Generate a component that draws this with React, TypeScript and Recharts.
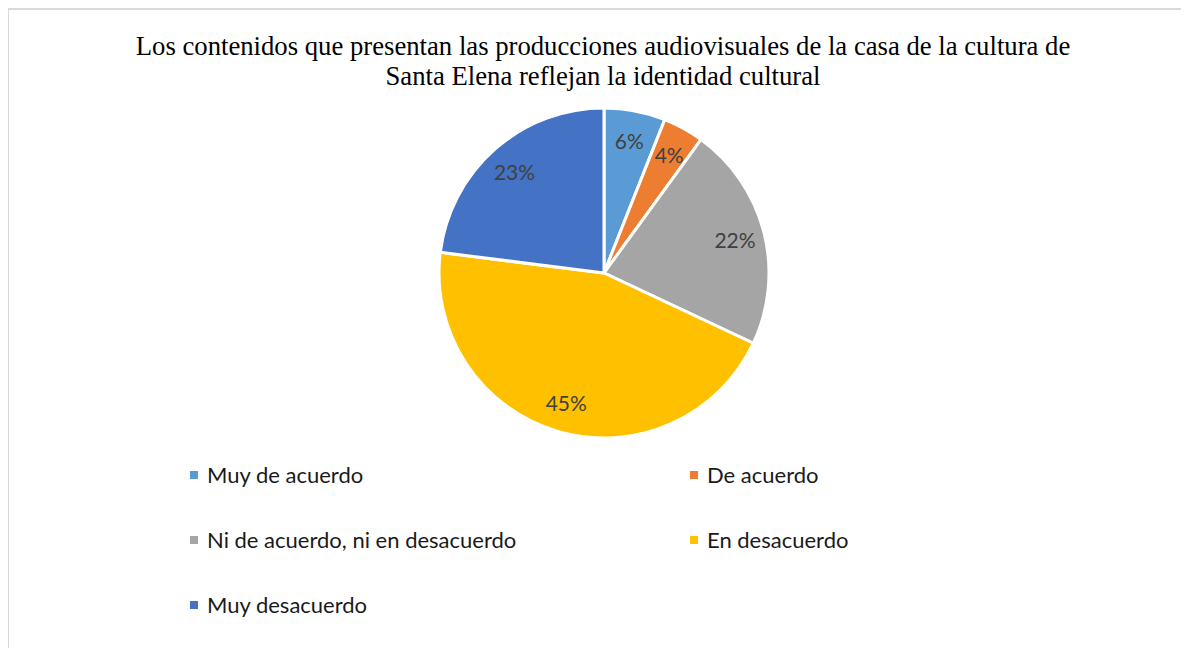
import { PieChart, Pie, Cell, Legend } from "recharts"

const categories = [
  "Muy de acuerdo",
  "De acuerdo",
  "Ni de acuerdo, ni en desacuerdo",
  "En desacuerdo",
  "Muy desacuerdo",
]
const values = [6, 4, 22, 45, 23]
const colors = ["#5B9BD5", "#ED7D31", "#A5A5A5", "#FFC000", "#4472C4"]

const titleLines = [
  "Los contenidos que presentan las producciones audiovisuales de la casa de la cultura de",
  "Santa Elena reflejan la identidad cultural",
]

const data = categories.map((name, i) => ({ name, value: values[i] }))

const RAD = Math.PI / 180

// percent labels sit inside the slices, a bit past the middle
const renderLabel = (props: any) => {
  const { cx, cy, midAngle, outerRadius, percent } = props
  const r = outerRadius * 0.82
  const x = cx + r * Math.cos(-midAngle * RAD)
  const y = cy + r * Math.sin(-midAngle * RAD)
  return (
    <text
      x={x}
      y={y}
      fill="#404040"
      fontSize={21}
      fontFamily="Lato, sans-serif"
      textAnchor="middle"
      dominantBaseline="central"
    >
      {`${Math.round(percent * 100)}%`}
    </text>
  )
}

// keep the legend in data order (recharts sorts the payload by name)
const renderLegend = () => (
  <div
    style={{
      display: "grid",
      gridTemplateColumns: "500px 300px",
      fontFamily: "Lato, sans-serif",
      fontSize: 22,
      color: "#1a1a1a",
    }}
  >
    {data.map((entry, i) => (
      <div key={`leg-${i}`} style={{ display: "flex", alignItems: "center", height: 65 }}>
        <span
          style={{
            display: "inline-block",
            width: 8,
            height: 8,
            background: colors[i],
            marginRight: 9,
          }}
        />
        <span>{entry.name}</span>
      </div>
    ))}
  </div>
)

export default function App() {
  return (
    <div
      style={{
        position: "relative",
        width: 1181,
        height: 640,
        marginLeft: -1,
        borderLeft: "2px solid #d9d9d9",
        borderTop: "2px solid #d9d9d9",
        background: "#fff",
        overflow: "hidden",
      }}
    >
      <div
        style={{
          position: "absolute",
          left: 0,
          top: 21,
          width: 1188,
          textAlign: "center",
          fontFamily: '"Liberation Serif", "Times New Roman", serif',
          fontSize: 26.7,
          lineHeight: "30px",
          color: "#000",
          whiteSpace: "nowrap",
        }}
      >
        {titleLines.map((t, i) => (
          <div key={i}>{t}</div>
        ))}
      </div>
      <PieChart width={1181} height={640} margin={{ top: 0, right: 0, bottom: 0, left: 0 }}>
        <Pie
          data={data}
          dataKey="value"
          nameKey="name"
          cx={595}
          cy={263}
          outerRadius={165}
          startAngle={90}
          endAngle={-270}
          stroke="#fff"
          strokeWidth={3}
          label={renderLabel}
          labelLine={false}
          isAnimationActive={false}
        >
          {data.map((entry, i) => (
            <Cell key={`cell-${i}`} fill={colors[i]} />
          ))}
        </Pie>
        <Legend
          content={renderLegend}
          layout="vertical"
          wrapperStyle={{ position: "absolute", left: 181, top: 432, width: 800 }}
        />
      </PieChart>
    </div>
  )
}
